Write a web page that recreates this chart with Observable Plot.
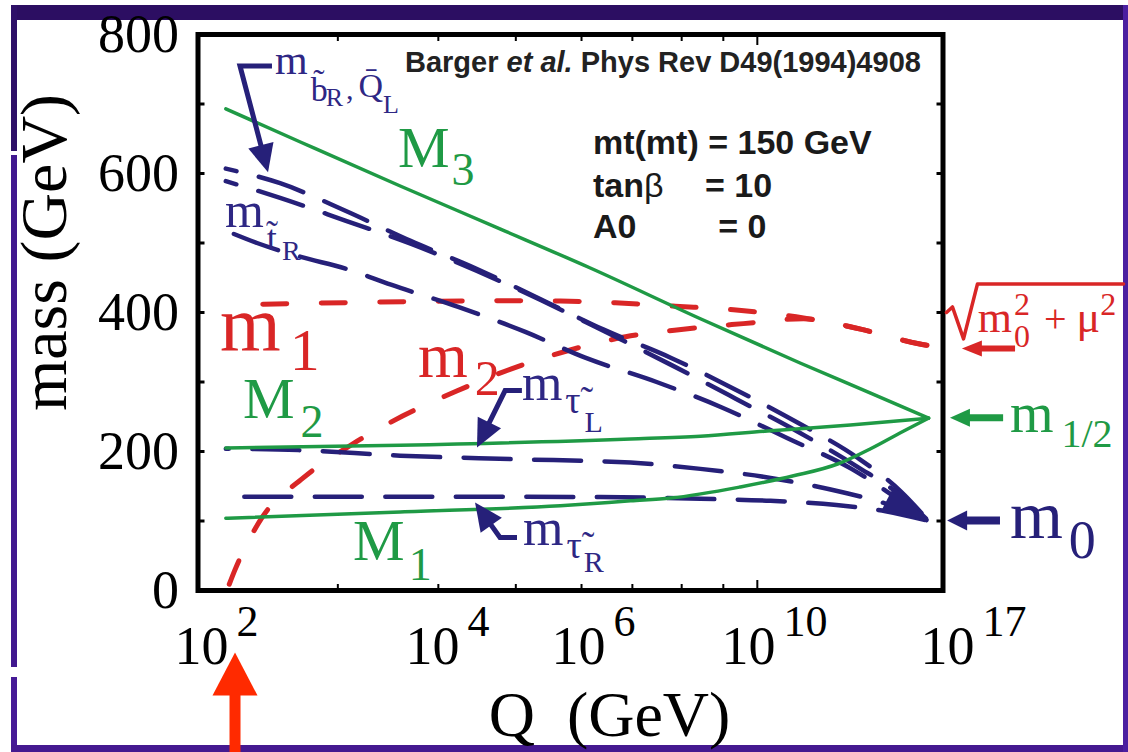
<!DOCTYPE html>
<html><head><meta charset="utf-8">
<script src="https://cdn.jsdelivr.net/npm/d3@7"></script>
<script src="https://cdn.jsdelivr.net/npm/@observablehq/plot@0.6"></script>
<style>
html,body{margin:0;padding:0;background:#fff;}
#wrap{position:relative;width:1128px;height:752px;overflow:hidden;background:#fff;}
#wrap svg{position:absolute;left:0;top:0;}
.band{position:absolute;}
</style></head><body>
<div id="wrap">
  <div class="band" style="left:11px;top:5px;width:1117px;height:15px;background:#2c0e62"></div>
  <div class="band" style="left:11px;top:5px;width:6px;height:146px;background:#2e1068"></div>
  <div class="band" style="left:11px;top:155px;width:6px;height:512px;background:#41188f"></div>
  <div class="band" style="left:11px;top:677px;width:6px;height:75px;background:#461a96"></div>
  <div class="band" style="left:11px;top:745px;width:1117px;height:7px;background:#451990"></div>
  <div class="band" style="left:1123px;top:5px;width:5px;height:747px;background:#4b1fa0"></div>
</div>
<script>
// ---------- axis ticks ----------
const xTickValues = [2, 4, 6, 10, 17];              // log10(Q / GeV)
const xTickPositions = [223, 454, 600, 770, 969];   // irregular spacing of the original axis
const xTickBase = ["10", "10", "10", "10", "10"];
const xTickExponents = ["2", "4", "6", "10", "17"];
const xMinorTicks = [2.99, 3.86, 4.84, 5.74, 6.75, 7.91, 8.89];
const xMidTicks = [9.69];
const yTicks = [0, 200, 400, 600, 800];
const yMinorTicks = [100, 200, 300, 400, 500, 600, 700];

// ---------- series: log10 Q and mass (GeV) ----------
const M3Q = [2.02, 2.67, 3.53, 4.63, 5.86, 8.35, 11.06, 13.52, 15.56];
const M3Mass = [693, 645, 582, 520, 464, 391, 327, 284, 248];
const M2Q = [2.02, 3.53, 6.71, 8.35, 9.93, 12.81, 15.56];
const M2Mass = [205, 209, 218, 222, 229.5, 238, 248];
const M1Q = [2.02, 3.53, 5.45, 6.71, 7.65, 9.29, 10.81, 12.36, 13.52, 14.57, 15.56];
const M1Mass = [104, 113, 122, 129, 133, 149, 165, 182, 204, 227, 248];

const QLQ = [2.02, 2.49, 3.06, 3.62, 4.30, 5.18, 6.09, 7.65, 9.18, 10.98, 13.06, 14.57, 15.56];
const QLMass = [607, 586, 546, 503, 463, 419, 375, 335, 289, 241, 191, 143, 100];
const bRQ = [2.02, 2.49, 3.06, 3.62, 4.30, 5.18, 6.09, 7.65, 9.18, 10.98, 13.06, 14.57, 15.56];
const bRMass = [589, 565, 532, 499, 460, 418, 373, 325, 276, 228, 178, 137, 100];
const tRQ = [2.09, 2.29, 2.67, 3.06, 3.45, 4.05, 4.97, 5.79, 7.32, 8.87, 10.60, 12.85, 14.29, 15.56];
const tRMass = [513, 500, 480, 463, 440, 408, 372, 335, 300, 263, 219, 175, 137, 100];

const tauLQ = [2.02, 2.65, 3.53, 4.79, 6.71, 8.35, 10.0, 12.46, 14.05, 15.56];
const tauLMass = [204, 202, 194, 189, 184, 175, 162, 142, 125, 100];
const tauRQ = [2.02, 3.96, 6.0, 8.35, 10.0, 12.32, 14.05, 15.56];
const tauRMass = [135, 135, 134.5, 132, 129, 123, 114, 100];

const m1Q = [2.34, 3.36, 4.63, 5.45, 6.35, 7.76, 9.13, 11.16, 13.17, 15.21, 15.63];
const m1Mass = [412, 415, 417, 416.5, 414, 409, 404, 392, 376, 355, 352];
const m2Q = [2.05, 2.10, 2.33, 2.69, 3.12, 3.55, 4.03, 4.78, 5.55, 6.59, 7.95, 9.36, 11.16, 13.17, 15.21, 15.63];
const m2Mass = [9, 30, 104, 162, 211, 251, 287, 319, 345, 365, 376, 384, 391, 376, 355, 352];

// ---------- styling ----------
const serif = "'Liberation Serif', 'Times New Roman', serif";
const sans = "'Liberation Sans', Arial, sans-serif";
const GREEN = "#1f9a45", NAVY = "#262079", NAVYT = "#2e2784", RED = "#d92626";

const rows = (q, m) => q.map((v, i) => ({q: v, m: m[i]}));
const L = {x: "q", y: "m", curve: "monotone-x"};

// ---------- annotations ----------
const radical = [[16.19, 400], [16.40, 408], [16.79, 362], [17.28, 441], [22.42, 441]];

const arrows = [
  {pts: [[2.424, 754], [2.147, 754], [2.39, 601]], color: NAVY, width: 5, head: [28, 26]},
  {pts: [[4.93, 287], [4.70, 287], [4.315, 205]], color: NAVY, width: 5, head: [28, 26]},
  {pts: [[4.863, 75.5], [4.63, 75.5], [4.288, 126]], color: NAVY, width: 5, head: [28, 26]},
  {pts: [[18.2, 248], [16.33, 248]], color: GREEN, width: 7, head: [20, 18]},
  {pts: [[18.09, 100], [16.23, 100]], color: NAVY, width: 8, head: [20, 20]},
  {pts: [[18.62, 347.5], [16.75, 347.5]], color: RED, width: 6, head: [20, 16]},
  {pts: [[14.05, 132], [15.56, 100]], color: NAVY, width: 0, head: [46, 26]},
  {pts: [[2.104, -234], [2.104, -90]], color: "#ff2a00", width: 11, head: [43, 45]}
];

const labels = [
  {q: 3.515, m: 608, color: GREEN, family: serif, parts: [{t: "M", size: 58}, {t: "3", size: 46, dx: 2, dy: 18}]},
  {q: 2.173, m: 247, color: GREEN, family: serif, parts: [{t: "M", size: 58}, {t: "2", size: 46, dx: 6, dy: 19}]},
  {q: 3.126, m: 43, color: GREEN, family: serif, parts: [{t: "M", size: 58}, {t: "1", size: 46, dx: 4, dy: 20}]},
  {q: 1.974, m: 345, color: RED, family: serif, parts: [{t: "m", size: 78}, {t: "1", size: 60, dx: 9, dy: 20}]},
  {q: 3.688, m: 306, color: RED, family: serif, parts: [{t: "m", size: 64}, {t: "2", size: 50, dx: 7, dy: 18}]},
  {q: 2.45, m: 743, color: NAVYT, family: serif, parts: [
    {t: "m", size: 42}, {t: "b\u0303", size: 34, dx: 3, dy: 27}, {t: "R", size: 26, dx: -2, dy: 32},
    {t: ",", size: 30, dx: 3, dy: 25}, {t: "Q\u0304", size: 34, dx: 5, dy: 23}, {t: "L", size: 26, dx: 0, dy: 39}]},
  {q: 2.017, m: 522, color: NAVYT, family: serif, parts: [
    {t: "m", size: 50}, {t: "t\u0303", size: 36, dx: 3, dy: 23}, {t: "R", size: 28, dx: 5, dy: 33}]},
  {q: 4.93, m: 273, color: NAVYT, family: serif, parts: [
    {t: "m", size: 52}, {t: "\u03c4\u0303", size: 38, dx: 3, dy: 13}, {t: "L", size: 30, dx: 4, dy: 32}]},
  {q: 4.945, m: 64.5, color: NAVYT, family: serif, parts: [
    {t: "m", size: 52}, {t: "\u03c4\u0303", size: 38, dx: 3, dy: 13}, {t: "R", size: 30, dx: 2, dy: 27}]},
  {q: 18.44, m: 227, color: GREEN, family: serif, parts: [{t: "m", size: 56}, {t: "1/2", size: 40, dx: 8, dy: 15}]},
  {q: 18.44, m: 74.5, color: NAVY, family: serif, parts: [{t: "m", size: 68}, {t: "0", size: 54, dx: 6, dy: 20}]},
  {q: 17.31, m: 371, color: RED, family: serif, parts: [
    {t: "m", size: 44}, {t: "0", size: 32, dx: 2, dy: 15}, {t: "2", size: 32, dx: -16, dy: -17},
    {t: " + ", size: 40, dx: 4, dy: 0}, {t: "\u03bc", size: 44, dy: 0}, {t: "2", size: 32, dy: -17}]},
  {q: 3.576, m: 745, color: "#222", family: sans, weight: "bold", parts: [
    {t: "Barger ", size: 29}, {t: "et al.", size: 29, italic: true}, {t: " Phys Rev D49(1994)4908", size: 29}]},
  {q: 5.904, m: 628, color: "#1a1a1a", family: sans, weight: "bold", parts: [{t: "mt(mt) = 150 GeV", size: 34}]},
  {q: 5.904, m: 566, color: "#1a1a1a", family: sans, weight: "bold", parts: [{t: "tan", size: 34}, {t: "\u03b2", size: 34, weight: "normal"}]},
  {q: 8.47, m: 566, color: "#1a1a1a", family: sans, weight: "bold", parts: [{t: "= 10", size: 34}]},
  {q: 5.904, m: 507, color: "#1a1a1a", family: sans, weight: "bold", parts: [{t: "A0", size: 34}]},
  {q: 8.78, m: 507, color: "#1a1a1a", family: sans, weight: "bold", parts: [{t: "= 0", size: 34}]}
];

function arrowMark(a) {
  return (index, scales) => {
    const P = a.pts.map(([q, m]) => [scales.x(q), scales.y(m)]);
    const g = d3.create("svg:g");
    const n = P.length;
    const [tx, ty] = P[n - 1], [px, py] = P[n - 2];
    const ang = Math.atan2(ty - py, tx - px);
    const ux = Math.cos(ang), uy = Math.sin(ang);
    const [hl, hw] = a.head;
    const bx = tx - hl * ux, by = ty - hl * uy;
    if (a.width > 0) {
      const shaft = P.slice(0, -1).concat([[tx - hl * 0.6 * ux, ty - hl * 0.6 * uy]]);
      g.append("path").attr("d", d3.line()(shaft)).attr("fill", "none")
        .attr("stroke", a.color).attr("stroke-width", a.width).attr("stroke-linejoin", "miter");
    }
    g.append("path")
      .attr("d", `M${tx},${ty}L${bx - uy * hw / 2},${by + ux * hw / 2}L${bx + uy * hw / 2},${by - ux * hw / 2}Z`)
      .attr("fill", a.color);
    return g.node();
  };
}

function richText(s) {
  return (index, scales) => {
    const t = d3.create("svg:text")
      .attr("x", scales.x(s.q)).attr("y", scales.y(s.m))
      .attr("text-anchor", "start")
      .attr("fill", s.color).attr("font-family", s.family)
      .style("white-space", "pre");
    if (s.weight) t.attr("font-weight", s.weight);
    let prev = 0;
    for (const p of s.parts) {
      const dy = p.dy ?? 0;
      const sp = t.append("tspan").text(p.t).attr("font-size", p.size);
      if (dy !== prev) sp.attr("dy", dy - prev);
      prev = dy;
      if (p.dx) sp.attr("dx", p.dx);
      if (p.italic) sp.attr("font-style", "italic");
      if (p.weight) sp.attr("font-weight", p.weight);
    }
    return t.node();
  };
}

const chart = Plot.plot({
  width: 1128,
  height: 752,
  marginLeft: 197.5,
  marginRight: 185.5,
  marginTop: 34,
  marginBottom: 162,
  style: {background: "transparent", overflow: "visible", fontFamily: serif, color: "#000"},
  x: {type: "linear", domain: xTickValues, range: xTickPositions},
  y: {domain: [0, 800]},
  marks: [
    // curves
    Plot.line(rows(m1Q, m1Mass), {...L, stroke: RED, strokeWidth: 5, strokeDasharray: "24,34.5"}),
    Plot.line(rows(m2Q, m2Mass), {...L, stroke: RED, strokeWidth: 5, strokeDasharray: "25,34"}),
    Plot.line(rows(QLQ, QLMass), {...L, stroke: NAVY, strokeWidth: 4.5, strokeDasharray: "47,23", strokeDashoffset: 36}),
    Plot.line(rows(bRQ, bRMass), {...L, stroke: NAVY, strokeWidth: 4.5, strokeDasharray: "47,23", strokeDashoffset: 36}),
    Plot.line(rows(tRQ, tRMass), {...L, stroke: NAVY, strokeWidth: 4.5, strokeDasharray: "47,23"}),
    Plot.line(rows(tauLQ, tauLMass), {...L, stroke: NAVY, strokeWidth: 4.5, strokeDasharray: "47,23.5", strokeDashoffset: 44}),
    Plot.line(rows(tauRQ, tauRMass), {...L, stroke: NAVY, strokeWidth: 4.5, strokeDasharray: "47,23.5", strokeDashoffset: 52}),
    Plot.line(rows(M3Q, M3Mass), {...L, stroke: GREEN, strokeWidth: 3.5}),
    Plot.line(rows(M2Q, M2Mass), {...L, stroke: GREEN, strokeWidth: 3.5}),
    Plot.line(rows(M1Q, M1Mass), {...L, stroke: GREEN, strokeWidth: 3.5}),
    // frame and ticks
    Plot.frame({stroke: "#000", strokeWidth: 5}),
    Plot.axisY({anchor: "left", ticks: yTicks, tickSize: 0, tickPadding: 19, fontSize: 54, fontFamily: serif, label: null}),
    Plot.axisY({anchor: "left", ticks: yMinorTicks, tickSize: -7, tickFormat: () => "", label: null, strokeWidth: 3}),
    Plot.axisY({anchor: "right", ticks: yMinorTicks, tickSize: -7, tickFormat: () => "", label: null, strokeWidth: 3}),
    Plot.axisX({anchor: "bottom", ticks: xMinorTicks, tickSize: -6, tickFormat: () => "", label: null, strokeWidth: 2}),
    Plot.axisX({anchor: "top", ticks: xMinorTicks, tickSize: -6, tickFormat: () => "", label: null, strokeWidth: 2}),
    Plot.axisX({anchor: "bottom", ticks: xMidTicks, tickSize: -10, tickFormat: () => "", label: null, strokeWidth: 2}),
    Plot.axisX({anchor: "top", ticks: xMidTicks, tickSize: -10, tickFormat: () => "", label: null, strokeWidth: 2}),
    // x tick labels 10^n
    Plot.text(xTickValues, {x: d => d, text: (d, i) => xTickBase[i], frameAnchor: "bottom", dy: 73, dx: 5,
      textAnchor: "end", lineAnchor: "bottom", fontSize: 54, fontFamily: serif, fill: "#000"}),
    Plot.text(xTickValues, {x: d => d, text: (d, i) => xTickExponents[i], frameAnchor: "bottom", dy: 45, dx: 13,
      textAnchor: "start", lineAnchor: "bottom", fontSize: 44, fontFamily: serif, fill: "#000"}),
    // axis titles
    Plot.text(["Q\u00a0\u00a0(GeV)"], {text: d => d, frameAnchor: "bottom", dx: 39, dy: 145, lineAnchor: "bottom",
      textAnchor: "middle", fontSize: 64, fontFamily: serif, fill: "#000"}),
    Plot.text(["mass (GeV)"], {text: d => d, frameAnchor: "left", dx: -132.5, dy: -60, rotate: -90, lineAnchor: "bottom",
      textAnchor: "middle", fontSize: 66, fontFamily: serif, fill: "#000"}),
    // radical sign
    Plot.line(radical, {x: d => d[0], y: d => d[1], stroke: RED, strokeWidth: 3.5}),
    ...labels.map(richText),
    ...arrows.map(arrowMark)
  ]
});
document.getElementById("wrap").appendChild(chart);
</script>
</body></html>
